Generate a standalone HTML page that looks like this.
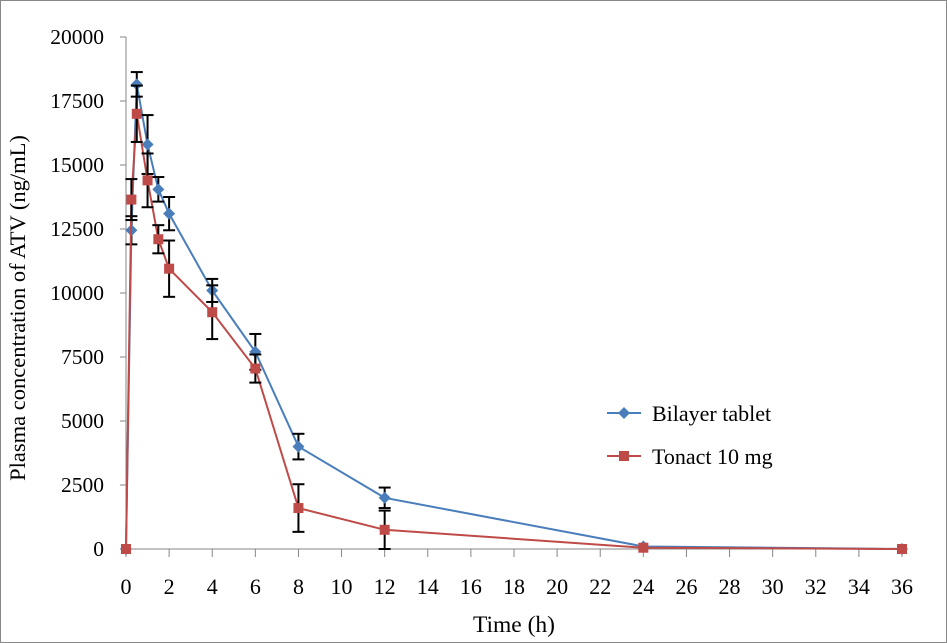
<!DOCTYPE html>
<html><head><meta charset="utf-8"><style>
body{margin:0;background:#fff}
svg{display:block;font-family:"Liberation Serif",serif}
</style></head><body>
<svg id="chart" width="947" height="643">
<rect x="0.5" y="0.5" width="946" height="642" fill="#fff" stroke="#888"/>
<g id="axes"></g><g id="series"></g>
<text x="25" y="308" transform="rotate(-90 25 308)" text-anchor="middle" font-size="22.5">Plasma concentration of ATV (ng/mL)</text>
<text x="514" y="632" text-anchor="middle" font-size="23.5">Time (h)</text>
<g>
<line x1="607" y1="413" x2="641" y2="413" stroke="#4a7ebb" stroke-width="2"/>
<path d="M624 407 L630 413 L624 419 L618 413Z" fill="#4a7ebb"/>
<text x="652" y="421" font-size="22">Bilayer tablet</text>
<line x1="607" y1="456" x2="641" y2="456" stroke="#be4b48" stroke-width="2"/>
<rect x="619" y="451" width="10" height="10" fill="#be4b48"/>
<text x="652" y="464" font-size="22">Tonact 10 mg</text>
</g>
</svg>
<script>
const times=[0,0.25,0.5,1,1.5,2,4,6,8,12,24,36];
const bilayer=[0,12450,18150,15800,14050,13100,10100,7700,4000,2000,100,0];
const bilayerErr=[0,550,480,1150,480,650,450,700,500,400,0,0];
const tonact=[0,13650,17000,14400,12100,10950,9250,7050,1600,750,50,0];
const tonactErr=[0,800,1100,1050,550,1100,1050,550,930,750,0,0];
const yTicks=[0,2500,5000,7500,10000,12500,15000,17500,20000];
const xTicks=[0,2,4,6,8,10,12,14,16,18,20,22,24,26,28,30,32,34,36];
const NS="http://www.w3.org/2000/svg";
const X=t=>126+t*(902-126)/36, Y=v=>549-v*(549-37)/20000;
function mk(tag,a,p){const e=document.createElementNS(NS,tag);for(const k in a)e.setAttribute(k,a[k]);p.appendChild(e);return e;}
const ax=document.getElementById('axes'), se=document.getElementById('series');
let e=mk('line',{x1:126,y1:37,x2:126,y2:549,stroke:'#868686'},ax);


e=mk('line',{x1:126,y1:549,x2:902,y2:549,stroke:'#868686'},ax);


yTicks.forEach(v=>{mk('line',{x1:120,y1:Y(v),x2:126,y2:Y(v),stroke:'#868686'},ax);
const t=mk('text',{x:104,y:Y(v)+7,'text-anchor':'end','font-size':21.5},ax);t.textContent=v;

});
xTicks.forEach(v=>{mk('line',{x1:X(v),y1:549,x2:X(v),y2:557,stroke:'#868686'},ax);
const t=mk('text',{x:X(v),y:594,'text-anchor':'middle','font-size':22},ax);t.textContent=v;

});
function series(vals,errs,color,shape,name){
const g=mk('g',{},se);


mk('polyline',{points:times.map((t,i)=>X(t)+','+Y(vals[i])).join(' '),fill:'none',stroke:color,'stroke-width':2},g);
times.forEach((t,i)=>{if(errs[i]>0){const x=X(t),a=Y(vals[i]+errs[i]),b=Y(Math.max(0,vals[i]-errs[i]));
mk('line',{x1:x,y1:a,x2:x,y2:b,stroke:'#000','stroke-width':2},g);
mk('line',{x1:x-6,y1:a,x2:x+6,y2:a,stroke:'#000','stroke-width':2},g);
mk('line',{x1:x-6,y1:b,x2:x+6,y2:b,stroke:'#000','stroke-width':2},g);}});
times.forEach((t,i)=>{const x=X(t),y=Y(vals[i]);let m;
if(shape==='d')m=mk('path',{d:`M${x} ${y-6}L${x+6} ${y}L${x} ${y+6}L${x-6} ${y}Z`,fill:color},g);
else m=mk('rect',{x:x-5,y:y-5,width:10,height:10,fill:color},g);

});
}
series(bilayer,bilayerErr,'#4a7ebb','d','bilayer');
series(tonact,tonactErr,'#be4b48','s','tonact');
</script>
</body></html>
